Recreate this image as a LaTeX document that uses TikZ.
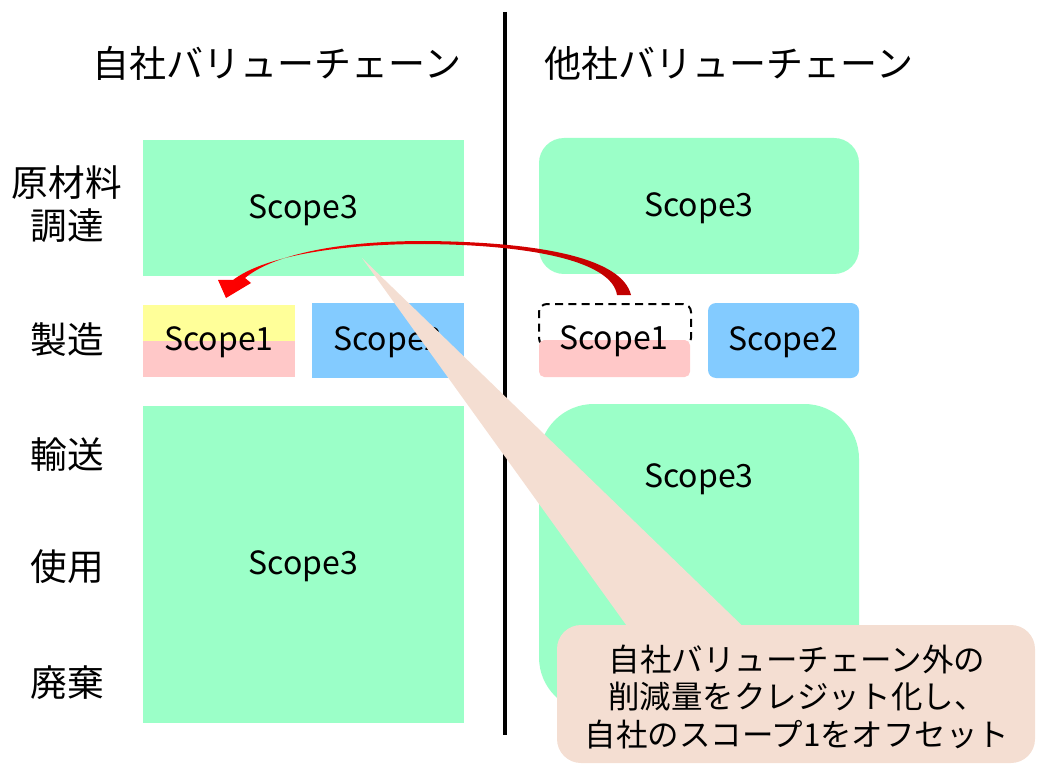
\documentclass[tikz,border=0pt]{standalone}
\usepackage{fontspec}
\setmainfont{Noto Sans CJK JP}
\usetikzlibrary{backgrounds}
\definecolor{scgreen}{RGB}{155,255,200}
\definecolor{scblue}{RGB}{131,203,255}
\definecolor{scyellow}{RGB}{255,255,153}
\definecolor{scpink}{RGB}{255,200,200}
\definecolor{callout}{RGB}{244,222,210}
\definecolor{darkred}{RGB}{192,0,0}
\begin{document}
\begin{tikzpicture}[x=0.75pt,y=-0.75pt,
  box/.style={inner sep=0pt, outer sep=0pt, font=\fontsize{24}{28}\selectfont},
  green/.style={box, fill=scgreen},
  blue/.style={box, fill=scblue},
  hdr/.style={inner sep=0pt, font=\fontsize{27.75}{32}\selectfont},
  lbl/.style={inner sep=0pt, align=center, font=\fontsize{27.5}{32.25}\selectfont},
  note/.style={inner sep=0pt, align=center, font=\fontsize{23.6}{28.1}\selectfont}]
\useasboundingbox (0,0) rectangle (1037,766);
% headers
\node[hdr] (h1) at (277,63) {自社バリューチェーン};
\node[hdr] (h2) at (729,63) {他社バリューチェーン};
\coordinate (vtop) at (505,12);
\coordinate (vbot) at (505,735);
\draw[line width=3pt] (vtop) -- (vbot);
% row labels
\node[lbl] (l1) at (67,204) {原材料\\調達};
\node[lbl] (l2) at (67,340) {製造};
\node[lbl] (l3) at (67,455) {輸送};
\node[lbl] (l4) at (67,567) {使用};
\node[lbl] (l5) at (67,683) {廃棄};
% own value chain
\node[green, minimum width=240.75pt, minimum height=102pt] (a3) at (303.5,208) {};
\node[box] (a3t) at (303.5,210) {Scope3};
\node[box, minimum width=114pt, minimum height=54pt] (a1) at (219,341) {};
\begin{scope}[on background layer]
  \fill[scyellow] (a1.north west) rectangle (a1.east);
  \fill[scpink] (a1.west) rectangle (a1.south east);
\end{scope}
\node[box] (a1t) at (219,342) {Scope1};
\node[blue, minimum width=114pt, minimum height=56.25pt] (a2) at (388,340.5) {};
\node[box] (a2t) at (388,342) {Scope2};
\node[green, minimum width=240.75pt, minimum height=237.75pt] (a4) at (303.5,564.5) {};
\node[box] (a4t) at (303.5,566) {Scope3};
% other value chain
\node[green, rounded corners=18.75pt, minimum width=240pt, minimum height=102pt] (b3) at (699,206) {};
\node[box] (b3t) at (699,208) {Scope3};
\node[box, draw, dash pattern=on 6pt off 4pt, line width=1.5pt, rounded corners=6pt, minimum width=114pt, minimum height=31.5pt] (b1d) at (615,325) {};
\node[box, fill=scpink, rounded corners=4pt, minimum width=113.25pt, minimum height=27.75pt] (b1p) at (614.5,358.5) {};
\node[box] (b1) at (614,341) {Scope1};
\node[blue, rounded corners=6pt, minimum width=113.25pt, minimum height=56.25pt] (b2) at (783.5,340.5) {};
\node[box] (b2t) at (783.5,342) {Scope2};
\node[green, rounded corners=41pt, minimum width=240pt, minimum height=231pt] (b4) at (699,558) {};
\node[box] (b4t) at (699,479) {Scope3};
% curved arrow
\shade[left color=red, right color=darkred]
  (617,295) -- (631,295) .. controls (622,258) and (540,242) .. (425,241)
  .. controls (330,241) and (270,257) .. (245,278) -- (251,283) -- (226,298) -- (218,280) -- (233,280)
  .. controls (262,258) and (330,244) .. (425,244)
  .. controls (535,245) and (612,262) .. (617,295) -- cycle;
% callout
\coordinate (tip) at (362,258);
\fill[callout] (tip) -- (637,640) -- (757,640) -- cycle;
\node[note, fill=callout, rounded corners=18pt, minimum width=358.5pt, minimum height=103.5pt] (c) at (796,694) {};
\node[note] (ct) at (797,697) {自社バリューチェーン外の\\削減量をクレジット化し、\\自社のスコープ1をオフセット};
\end{tikzpicture}
\end{document}
